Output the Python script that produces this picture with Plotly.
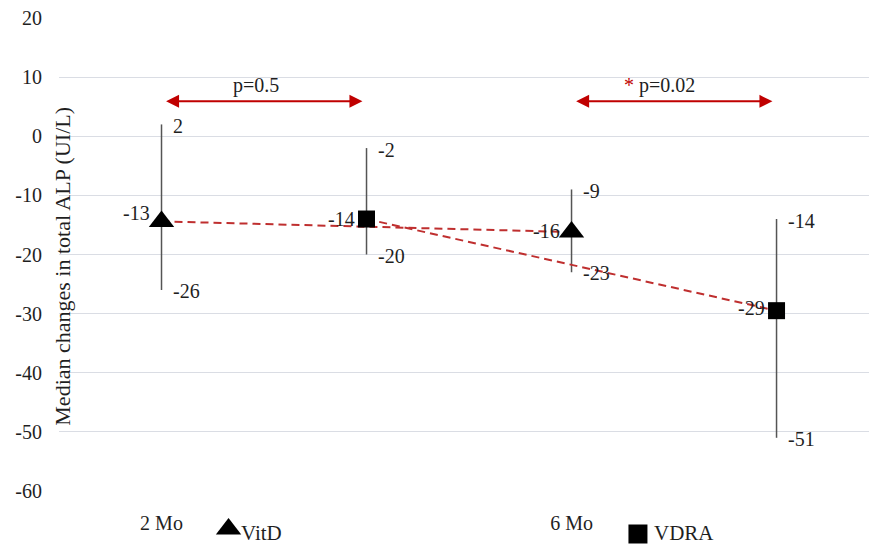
import plotly.graph_objects as go

# ---- data ----
timepoints = ["2 Mo", "6 Mo"]
groups = ["VitD", "VDRA"]
group_x = {"VitD": [0, 2], "VDRA": [1, 3]}          # category slots
median_pos = {"VitD": [-14.4, -16.2], "VDRA": [-14.0, -29.5]}
median_label = {"VitD": [-13, -16], "VDRA": [-14, -29]}
upper = {"VitD": [2, -9], "VDRA": [-2, -14]}
lower = {"VitD": [-26, -23], "VDRA": [-20, -51]}
symbols = {"VitD": "triangle-up", "VDRA": "square"}
sizes = {"VitD": 22, "VDRA": 17}
p_texts = ["p=0.5", "<span style='color:#C00000'>*</span> p=0.02"]
tick_vals = [0, 2]
y_ticks = list(range(-60, 21, 10))

FONT = "Liberation Serif, Times New Roman, serif"
TXT = "#1f1f1f"
fig = go.Figure()

for g in groups:
    xs = group_x[g]
    med = median_pos[g]
    fig.add_trace(go.Scatter(
        x=xs, y=med, mode="lines+markers",
        line=dict(color="#BF2F2F", width=2, dash="8px,5px"),
        marker=dict(symbol=symbols[g], size=sizes[g], color="black"),
        error_y=dict(type="data", symmetric=False,
                     array=[u - m for u, m in zip(upper[g], med)],
                     arrayminus=[m - l for m, l in zip(med, lower[g])],
                     color="#555555", thickness=1.5, width=0),
        showlegend=False, hoverinfo="skip"))

annotations = []
for g in groups:
    for xv, ml, up, lo in zip(group_x[g], median_label[g], upper[g], lower[g]):
        annotations.append(dict(x=xv, y=ml, text=str(ml), showarrow=False,
                                xanchor="right", xshift=-10, yanchor="middle"))
        annotations.append(dict(x=xv, y=up, text=str(up), showarrow=False,
                                xanchor="left", xshift=9, yshift=-2, yanchor="middle"))
        annotations.append(dict(x=xv, y=lo, text=str(lo), showarrow=False,
                                xanchor="left", xshift=9, yshift=-1, yanchor="middle"))

# comparison arrows with p-values
for i, txt in enumerate(p_texts):
    a, b = group_x["VitD"][i], group_x["VDRA"][i]
    annotations.append(dict(x=b - 0.02, y=5.9, ax=a + 0.015, ay=5.9, xref="x", yref="y",
                            axref="x", ayref="y", showarrow=True, text="",
                            arrowside="end+start", arrowhead=2, startarrowhead=2,
                            arrowsize=1.3, startarrowsize=1.3, arrowwidth=2,
                            arrowcolor="#C00000"))
    annotations.append(dict(x=(a + b) / 2 - 0.04 + (0.0 if i == 0 else -0.03), y=8.5,
                            text=txt, showarrow=False, yanchor="middle"))

# legend keys (drawn on a helper axis pair below the plot area)
leg_x = {"VitD": 0.327, "VDRA": 2.324}
leg_y = {"VitD": 17, "VDRA": 12}
leg_sizes = {"VitD": 22, "VDRA": 19}
leg_text_dx = {"VitD": 0.05, "VDRA": 0.07}
for g in groups:
    fig.add_trace(go.Scatter(x=[leg_x[g]], y=[leg_y[g]], mode="markers",
                             xaxis="x2", yaxis="y2",
                             marker=dict(symbol=symbols[g], size=leg_sizes[g], color="black"),
                             cliponaxis=False, showlegend=False, hoverinfo="skip"))
    annotations.append(dict(x=leg_x[g] + leg_text_dx[g], y=13, xref="x2", yref="y2",
                            text=g, showarrow=False,
                            xanchor="left", yanchor="middle", font=dict(size=21, family=FONT)))

# y-axis title
annotations.append(dict(xref="paper", yref="paper", x=0, y=0.529, xshift=4,
                        text="Median changes in total ALP (UI/L)", textangle=-90,
                        showarrow=False, xanchor="center", yanchor="middle",
                        font=dict(size=22, family=FONT)))

bottom = 55 / 528.0
fig.update_layout(
    width=869, height=546,
    margin=dict(l=59, r=0, t=18, b=0, pad=0, autoexpand=False),
    paper_bgcolor="white", plot_bgcolor="white",
    font=dict(family=FONT, size=20, color=TXT),
    annotations=annotations,
    showlegend=False,
    xaxis=dict(range=[-0.5, 3.451], tickvals=tick_vals, ticktext=timepoints,
               showgrid=False, zeroline=False, showline=False, ticks="",
               ticklabelstandoff=18, tickfont=dict(size=20, family=FONT), anchor="y",
               automargin=False),
    yaxis=dict(domain=[bottom, 1], range=[-60, 20], tickvals=y_ticks,
               ticktext=[str(v) for v in y_ticks], showgrid=True,
               gridcolor="#DADDE4", gridwidth=1.3, zeroline=False, showline=False,
               ticks="", ticklabelstandoff=16, tickfont=dict(size=20, family=FONT),
               automargin=False),
    xaxis2=dict(range=[-0.5, 3.451], visible=False, anchor="y2", overlaying="x",
                automargin=False),
    yaxis2=dict(domain=[0, bottom], range=[0, 55], visible=False, anchor="x2",
                automargin=False),
)

fig.write_html("out.html")
